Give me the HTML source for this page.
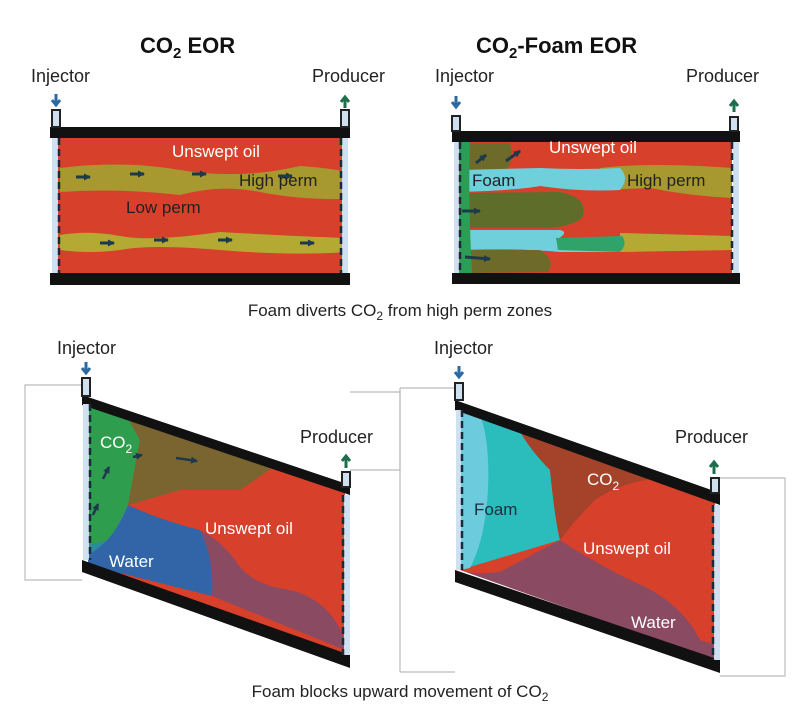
<!DOCTYPE html>
<html><head><meta charset="utf-8"><style>
html,body{margin:0;padding:0;background:#fff;}
svg{display:block;}
text{font-family:"Liberation Sans",Arial,sans-serif;}
</style></head><body>
<svg width="800" height="720" viewBox="0 0 800 720" xmlns="http://www.w3.org/2000/svg">
<defs>
<marker id="ar" markerUnits="userSpaceOnUse" markerWidth="7" markerHeight="7" refX="6" refY="3.5" orient="auto"><path d="M0,0 L7,3.5 L0,7 z" fill="#1d3a4a"/></marker>
</defs>
<!-- Titles -->
<text x="140" y="53" font-size="22" font-weight="bold" fill="#111">CO<tspan font-size="15" dy="5">2</tspan><tspan dy="-5"> EOR</tspan></text>
<text x="476" y="53" font-size="22" font-weight="bold" fill="#111">CO<tspan font-size="15" dy="5">2</tspan><tspan dy="-5">-Foam EOR</tspan></text>

<!-- ===== TOP LEFT ===== -->
<text x="31" y="82" font-size="18" fill="#222">Injector</text>
<text x="312" y="82" font-size="18" fill="#222">Producer</text>
<rect x="58" y="138" width="288" height="136" fill="#d7402a"/>
<path d="M60,168 Q120,160 180,170 T300,166 Q330,168 346,172 L346,199 Q300,200 260,192 T180,195 Q120,188 60,192 Z" fill="#a7992f"/>
<path d="M60,235 Q90,230 120,236 T220,232 Q290,236 346,238 L346,252 Q290,256 220,250 T120,250 Q90,254 60,250 Z" fill="#b4aa33"/>
<rect x="50" y="127" width="300" height="11" fill="#111"/>
<rect x="50" y="273" width="300" height="12" fill="#111"/>
<rect x="52" y="110" width="8" height="17" fill="#cfe0f0" stroke="#222" stroke-width="2"/>
<rect x="341" y="110" width="8" height="17" fill="#cfe0f0" stroke="#222" stroke-width="2"/>
<rect x="52" y="138" width="6" height="135" fill="#cfe0f0"/>
<line x1="59" y1="138" x2="59" y2="273" stroke="#1a2a38" stroke-width="2.5" stroke-dasharray="7,4"/>
<rect x="342" y="138" width="6" height="135" fill="#cfe0f0"/>
<line x1="341" y1="138" x2="341" y2="273" stroke="#1a2a38" stroke-width="2.5" stroke-dasharray="7,4"/>
<path d="M56,94 v9 M52,100 l4,5 l4,-5" stroke="#2a6aa0" stroke-width="3" fill="none"/>
<path d="M345,108 v-9 M341,102 l4,-5 l4,5" stroke="#1e6e4e" stroke-width="3" fill="none"/>
<g stroke="#1d3a4a" stroke-width="3" marker-end="url(#ar)">
<line x1="76" y1="177" x2="90" y2="177"/><line x1="130" y1="174" x2="144" y2="174"/><line x1="192" y1="174" x2="206" y2="174"/><line x1="278" y1="176" x2="292" y2="176"/>
<line x1="100" y1="243" x2="114" y2="243"/><line x1="154" y1="240" x2="168" y2="240"/><line x1="218" y1="240" x2="232" y2="240"/><line x1="300" y1="243" x2="314" y2="243"/>
</g>
<text x="172" y="157" font-size="17" fill="#fff">Unswept oil</text>
<text x="239" y="186" font-size="17" fill="#222">High perm</text>
<text x="126" y="213" font-size="17" fill="#222">Low perm</text>

<!-- ===== TOP RIGHT ===== -->
<text x="435" y="82" font-size="18" fill="#222">Injector</text>
<text x="686" y="82" font-size="18" fill="#222">Producer</text>
<rect x="456" y="142" width="276" height="131" fill="#d7402a"/>
<path d="M460,143 L510,143 Q515,160 505,172 L460,172 Z" fill="#6e6a2a"/>
<path d="M600,168 Q650,162 732,168 L732,198 Q690,196 650,188 L600,190 Z" fill="#a7992f"/>
<path d="M460,170 L540,168 Q580,170 620,168 Q630,178 620,190 Q580,192 540,186 Q520,190 460,192 Z" fill="#6fd0dc"/>
<path d="M460,193 L560,192 Q590,198 582,218 Q570,228 540,228 L460,228 Z" fill="#5e6e2a"/>
<path d="M620,233 L732,236 L732,250 L620,252 Z" fill="#b4aa33"/>
<path d="M460,230 L560,230 Q570,232 556,240 L622,236 Q628,244 620,252 L560,252 Q520,248 460,250 Z" fill="#6fd0dc"/>
<path d="M556,238 L622,236 Q628,244 620,252 L558,250 Z" fill="#2fa36a"/>
<path d="M460,250 L540,250 Q556,260 548,272 L460,273 Z" fill="#6e6a2a"/>
<path d="M456,142 L470,142 Q468,200 472,273 L456,273 Z" fill="#2a9e55"/>
<rect x="452" y="131" width="288" height="11" fill="#111"/>
<rect x="452" y="273" width="288" height="11" fill="#111"/>
<rect x="452" y="116" width="8" height="15" fill="#cfe0f0" stroke="#222" stroke-width="2"/>
<rect x="730" y="117" width="8" height="14" fill="#cfe0f0" stroke="#222" stroke-width="2"/>
<rect x="454" y="142" width="5" height="131" fill="#cfe0f0"/>
<line x1="460" y1="142" x2="460" y2="273" stroke="#1a2a38" stroke-width="2.5" stroke-dasharray="7,4"/>
<rect x="733" y="142" width="6" height="131" fill="#cfe0f0"/>
<line x1="732" y1="142" x2="732" y2="273" stroke="#1a2a38" stroke-width="2.5" stroke-dasharray="7,4"/>
<path d="M456,96 v9 M452,102 l4,5 l4,-5" stroke="#2a6aa0" stroke-width="3" fill="none"/>
<path d="M734,112 v-9 M730,106 l4,-5 l4,5" stroke="#1e6e4e" stroke-width="3" fill="none"/>
<g stroke="#1d3a4a" stroke-width="3" marker-end="url(#ar)">
<line x1="476" y1="163" x2="486" y2="155"/><line x1="506" y1="161" x2="520" y2="151"/><line x1="462" y1="211" x2="480" y2="211"/><line x1="465" y1="257" x2="490" y2="259"/>
</g>
<text x="549" y="153" font-size="17" fill="#fff">Unswept oil</text>
<text x="472" y="186" font-size="17" fill="#222">Foam</text>
<text x="627" y="186" font-size="17" fill="#222">High perm</text>

<text x="400" y="316" font-size="17" fill="#222" text-anchor="middle">Foam diverts CO<tspan font-size="12" dy="4">2</tspan><tspan dy="-4"> from high perm zones</tspan></text>

<!-- ===== BOTTOM LEFT ===== -->
<g fill="none" stroke="#bbb" stroke-width="1.2">
<path d="M82,385 H25 V580 H82"/>
<path d="M350,392 H400 V470 H350"/>
<path d="M400,388 H455 M400,388 V672 M400,672 H455"/>
<path d="M720,478 H785 V676 H720"/>
</g>
<text x="57" y="354" font-size="18" fill="#222">Injector</text>
<text x="300" y="443" font-size="18" fill="#222">Producer</text>
<polygon points="88,400 345,490 345,662 88,565" fill="#d7402a"/>
<polygon points="88,400 125,413 140,440 128,505 110,540 88,545" fill="#2e9e4e"/>
<polygon points="125,413 275,466 240,490 180,490 128,505 140,440" fill="#7a6430"/>
<polygon points="128,505 130,535 88,560 88,545 110,540" fill="#2a8c9c"/>
<path d="M128,505 Q160,520 200,530 Q215,560 212,596 L88,565 L88,555 Q115,540 128,505 Z" fill="#3264a8"/>
<path d="M200,530 Q215,560 212,596 L345,650 L345,640 Q330,600 290,590 Q250,585 235,560 Q220,540 200,530 Z" fill="#8a4a62"/>
<polygon points="82,395 350,485 350,495 82,405" fill="#111"/>
<polygon points="82,560 350,655 350,668 82,572" fill="#111"/>
<rect x="82" y="378" width="8" height="18" fill="#cfe0f0" stroke="#222" stroke-width="2"/>
<rect x="342" y="472" width="8" height="15" fill="#cfe0f0" stroke="#222" stroke-width="2"/>
<rect x="83" y="404" width="6" height="156" fill="#cfe0f0"/>
<line x1="90" y1="404" x2="90" y2="560" stroke="#1a2a38" stroke-width="2.5" stroke-dasharray="7,4"/>
<rect x="344" y="495" width="6" height="160" fill="#cfe0f0"/>
<line x1="343" y1="495" x2="343" y2="655" stroke="#1a2a38" stroke-width="2.5" stroke-dasharray="7,4"/>
<path d="M86,362 v10 M82,368 l4,5 l4,-5" stroke="#2a6aa0" stroke-width="3" fill="none"/>
<path d="M346,468 v-10 M342,461 l4,-5 l4,5" stroke="#1e6e4e" stroke-width="3" fill="none"/>
<g stroke="#1d3a4a" stroke-width="2.5" marker-end="url(#ar)">
<line x1="93" y1="515" x2="98" y2="504"/><line x1="103" y1="479" x2="109" y2="467"/><line x1="133" y1="457" x2="142" y2="455"/><line x1="176" y1="458" x2="197" y2="461"/>
</g>
<text x="100" y="448" font-size="17" fill="#fff">CO<tspan font-size="12" dy="5">2</tspan></text>
<text x="205" y="534" font-size="17" fill="#fff">Unswept oil</text>
<text x="109" y="567" font-size="17" fill="#fff">Water</text>

<!-- ===== BOTTOM RIGHT ===== -->
<text x="434" y="354" font-size="18" fill="#222">Injector</text>
<text x="675" y="443" font-size="18" fill="#222">Producer</text>
<polygon points="460,405 715,495 715,660 460,570" fill="#d7402a"/>
<path d="M460,410 L518,428 Q530,450 550,470 Q555,520 560,540 L460,570 Z" fill="#2bbcbc"/>
<path d="M460,410 L480,415 Q490,440 488,490 Q485,540 470,568 L460,570 Z" fill="#6ccbdc"/>
<path d="M518,428 L660,478 Q620,482 595,500 Q575,520 560,540 Q555,520 550,470 Q530,450 518,428 Z" fill="#a4432a"/>
<path d="M560,540 Q590,560 630,580 Q680,600 700,640 L715,645 L715,660 L460,570 Q470,575 500,572 Z" fill="#8a4a62"/>
<polygon points="455,400 720,493 720,505 455,410" fill="#111"/>
<polygon points="455,570 720,660 720,673 455,582" fill="#111"/>
<rect x="455" y="383" width="8" height="17" fill="#cfe0f0" stroke="#222" stroke-width="2"/>
<rect x="711" y="478" width="8" height="15" fill="#cfe0f0" stroke="#222" stroke-width="2"/>
<rect x="456" y="410" width="5" height="160" fill="#cfe0f0"/>
<line x1="462" y1="410" x2="462" y2="570" stroke="#1a2a38" stroke-width="2.5" stroke-dasharray="7,4"/>
<rect x="714" y="505" width="6" height="155" fill="#cfe0f0"/>
<line x1="713" y1="505" x2="713" y2="660" stroke="#1a2a38" stroke-width="2.5" stroke-dasharray="7,4"/>
<path d="M459,366 v10 M455,372 l4,5 l4,-5" stroke="#2a6aa0" stroke-width="3" fill="none"/>
<path d="M714,474 v-10 M710,467 l4,-5 l4,5" stroke="#1e6e4e" stroke-width="3" fill="none"/>
<text x="474" y="515" font-size="17" fill="#1a3040">Foam</text>
<text x="587" y="485" font-size="17" fill="#fff">CO<tspan font-size="12" dy="5">2</tspan></text>
<text x="583" y="554" font-size="17" fill="#fff">Unswept oil</text>
<text x="631" y="628" font-size="17" fill="#fff">Water</text>

<text x="400" y="697" font-size="17" fill="#222" text-anchor="middle">Foam blocks upward movement of CO<tspan font-size="12" dy="4">2</tspan></text>
</svg>
</body></html>
